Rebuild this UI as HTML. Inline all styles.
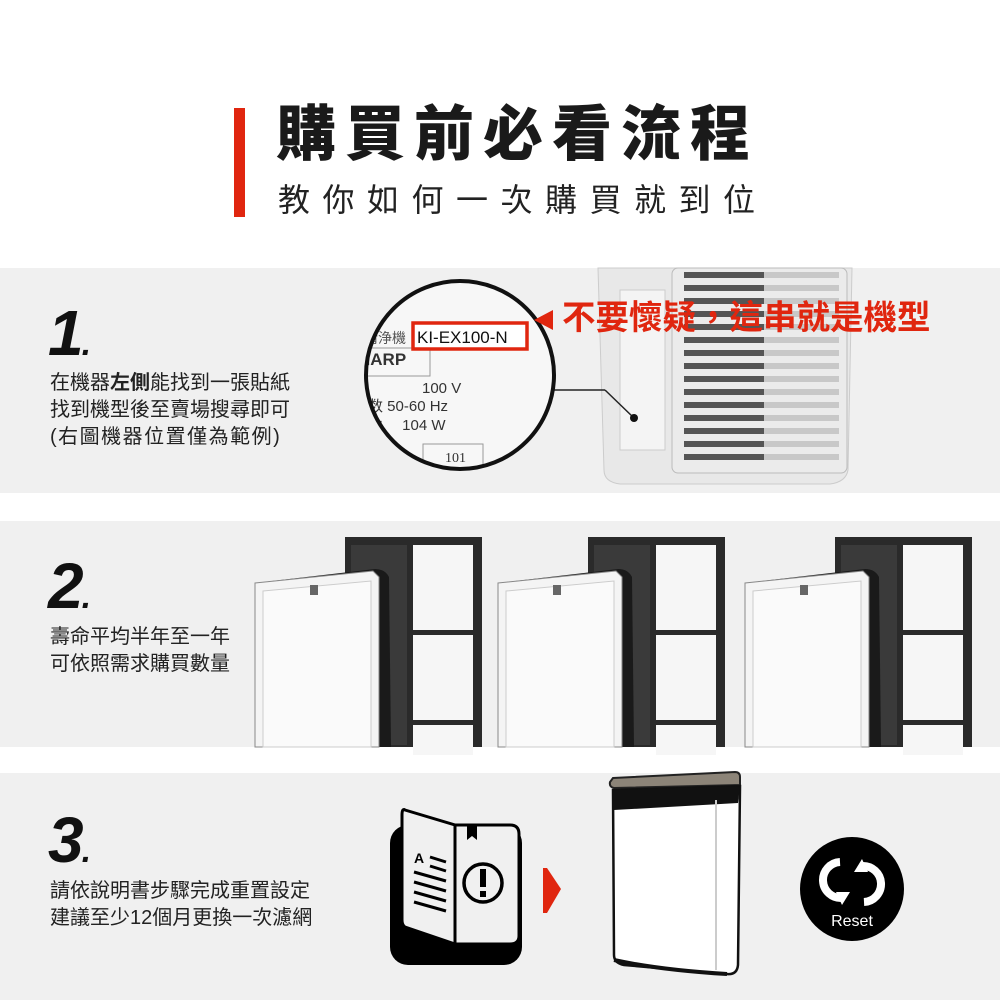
<!DOCTYPE html>
<html><head><meta charset="utf-8"><style>
body{margin:0;width:1000px;height:1000px;background:#fff;position:relative;overflow:hidden;font-family:"Liberation Sans","Noto Sans CJK TC",sans-serif;color:#222}
.a{position:absolute}
.band{position:absolute;left:0;width:1000px;background:#f0f0f0}
.num{position:absolute;left:48px;font-size:64px;font-weight:bold;font-style:italic;color:#111;letter-spacing:-2px}
.num span{font-size:34px}
.t{position:absolute;left:50px;font-size:20px;line-height:27px;color:#222;white-space:nowrap}
</style></head><body>
<div class="a" style="left:234px;top:108px;width:11px;height:109px;background:#e0260f"></div>
<div class="a" style="left:276px;top:98px;font-size:60px;font-weight:900;letter-spacing:9px;color:#1a1a1a;line-height:74px;white-space:nowrap">購買前必看流程</div>
<div class="a" style="left:278px;top:180px;font-size:32px;letter-spacing:12.5px;color:#222;line-height:40px;white-space:nowrap">教你如何一次購買就到位</div>

<div class="band" style="top:268px;height:225px"></div>
<div class="band" style="top:521px;height:226px"></div>
<div class="band" style="top:773px;height:227px"></div>

<div class="num" style="top:296px">1<span>.</span></div>
<div class="t" style="top:370px">在機器<b>左側</b>能找到一張貼紙<br>找到機型後至賣場搜尋即可<br><span style="letter-spacing:1.5px">(右圖機器位置僅為範例)</span></div>

<svg class="a" style="left:0;top:0" width="1000" height="1000">
<path d="M598 268 L852 268 L848 470 Q846 482 830 484 L620 484 Q604 482 604 470 Z" fill="#e8e8e8" stroke="#ccc"/>
<rect x="672" y="268" width="175" height="205" rx="6" fill="#ebebeb" stroke="#bbb"/>
<g fill="#555">
<rect x="684" y="272" width="80" height="6"/><rect x="684" y="285" width="80" height="6"/><rect x="684" y="298" width="80" height="6"/>
<rect x="684" y="311" width="80" height="6"/><rect x="684" y="324" width="80" height="6"/><rect x="684" y="337" width="80" height="6"/>
<rect x="684" y="350" width="80" height="6"/><rect x="684" y="363" width="80" height="6"/><rect x="684" y="376" width="80" height="6"/>
<rect x="684" y="389" width="80" height="6"/><rect x="684" y="402" width="80" height="6"/><rect x="684" y="415" width="80" height="6"/>
<rect x="684" y="428" width="80" height="6"/><rect x="684" y="441" width="80" height="6"/><rect x="684" y="454" width="80" height="6"/>
</g>
<g fill="#c8c8c8">
<rect x="764" y="272" width="75" height="6"/><rect x="764" y="285" width="75" height="6"/><rect x="764" y="298" width="75" height="6"/>
<rect x="764" y="311" width="75" height="6"/><rect x="764" y="324" width="75" height="6"/><rect x="764" y="337" width="75" height="6"/>
<rect x="764" y="350" width="75" height="6"/><rect x="764" y="363" width="75" height="6"/><rect x="764" y="376" width="75" height="6"/>
<rect x="764" y="389" width="75" height="6"/><rect x="764" y="402" width="75" height="6"/><rect x="764" y="415" width="75" height="6"/>
<rect x="764" y="428" width="75" height="6"/><rect x="764" y="441" width="75" height="6"/><rect x="764" y="454" width="75" height="6"/>
</g>
<rect x="620" y="290" width="45" height="160" fill="#f4f4f4" stroke="#ccc"/>
<line x1="540" y1="390" x2="605" y2="390" stroke="#222" stroke-width="1.5"/>
<line x1="605" y1="390" x2="634" y2="418" stroke="#222" stroke-width="1.5"/>
<circle cx="634" cy="418" r="4" fill="#111"/>
<defs><clipPath id="c"><circle cx="460" cy="375" r="94"/></clipPath></defs>
<circle cx="460" cy="375" r="94" fill="#f7f7f7"/>
<g clip-path="url(#c)" font-family="Liberation Sans,Noto Sans CJK TC,sans-serif" fill="#333">
<text x="364" y="343" font-size="14" fill="#555">清浄機</text>
<rect x="355" y="348" width="75" height="28" fill="none" stroke="#999"/>
<text x="358" y="365" font-size="17" font-weight="bold" fill="#333">HARP</text>
<text x="422" y="393" font-size="15">100 V</text>
<text x="368" y="411" font-size="15">数 50-60 Hz</text>
<text x="368" y="430" font-size="15">力 　104 W</text>
<rect x="423" y="444" width="60" height="30" fill="none" stroke="#999"/>
<text x="445" y="462" font-size="14" font-family="Liberation Serif,serif">101</text>
</g>
<circle cx="460" cy="375" r="94" fill="none" stroke="#111" stroke-width="4"/>
<rect x="413" y="323" width="114" height="26" fill="#fff" stroke="#e0260f" stroke-width="3.5"/>
<text x="417" y="343" font-size="17" fill="#111" font-family="Liberation Sans,sans-serif">KI-EX100-N</text>
<path d="M534 320 L553 310 L553 330 Z" fill="#e0260f"/>
</svg>
<div class="a" style="left:562px;top:297px;font-size:33.5px;font-weight:bold;color:#e0260f;line-height:44px;white-space:nowrap">不要懷疑，這串就是機型</div>

<div class="num" style="top:549px">2<span>.</span></div>
<div class="t" style="top:624px">壽命平均半年至一年<br>可依照需求購買數量</div>

<svg class="a" style="left:0;top:0" width="1000" height="1000">
<defs>
<g id="f">
<rect x="0" y="0" width="137" height="210" fill="#2a2a2a"/>
<rect x="68" y="8" width="60" height="85" fill="#f6f6f6"/>
<rect x="68" y="98" width="60" height="85" fill="#f6f6f6"/>
<rect x="68" y="188" width="60" height="30" fill="#f6f6f6"/>
<rect x="6" y="8" width="56" height="200" fill="#3a3a3a"/>
<path d="M-90 46 L30 32 Q40 32 44 40 L46 210 L-90 210 Z" fill="#1a1a1a"/>
<path d="M-90 46 L28 34 L34 40 L34 210 L-90 210 Z" fill="#f4f4f4" stroke="#888"/>
<path d="M-82 54 L26 44 L26 210 L-82 210 Z" fill="#fafafa" stroke="#ccc"/>
<rect x="-35" y="48" width="8" height="10" fill="#666"/>
</g>
</defs>
<use href="#f" x="345" y="537"/>
<use href="#f" x="588" y="537"/>
<use href="#f" x="835" y="537"/>
</svg>

<div class="num" style="top:803px">3<span>.</span></div>
<div class="t" style="top:878px">請依說明書步驟完成重置設定<br>建議至少12個月更換一次濾網</div>

<svg class="a" style="left:0;top:0" width="1000" height="1000">
<rect x="390" y="825" width="132" height="140" rx="18" fill="#000"/>
<path d="M405 810 L455 825 L455 944 L405 927 Q402 925 402 920 L402 815 Q402 808 405 810 Z" fill="#f0f0f0" stroke="#000" stroke-width="3"/>
<path d="M455 825 L510 825 Q519 825 519 834 L519 936 Q519 944 510 944 L455 944 Z" fill="#f0f0f0" stroke="#000" stroke-width="3"/>
<path d="M467 826 L477 826 L477 840 L472 836 L467 840 Z" fill="#000"/>
<circle cx="483" cy="883" r="19" fill="none" stroke="#000" stroke-width="3.5"/>
<rect x="480" y="869" width="6" height="18" fill="#000"/><rect x="480" y="891" width="6" height="6" fill="#000"/>
<text x="414" y="863" font-size="14" font-weight="bold" font-family="Liberation Sans,sans-serif">A</text>
<g stroke="#000" stroke-width="3"><line x1="430" y1="857" x2="446" y2="862"/><line x1="430" y1="866" x2="446" y2="871"/>
<line x1="414" y1="872" x2="446" y2="881"/><line x1="414" y1="882" x2="446" y2="891"/><line x1="414" y1="892" x2="446" y2="901"/><line x1="414" y1="902" x2="446" y2="911"/></g>
<path d="M543 868 L547 868 L561 889 L547 913 L543 913 Z" fill="#e0260f"/>
<path d="M613 778 L735 772 Q740 772 740 777 L740 785 L614 788 Q609 787 610 782 Z" fill="#8c8478" stroke="#222" stroke-width="2"/>
<path d="M613 790 L740 786 L738 965 Q737 975 727 974 L624 965 Q614 963 614 955 Z" fill="#fff" stroke="#111" stroke-width="2.5"/>
<path d="M613 790 L740 786 L738 803 L614 810 Z" fill="#111"/>
<line x1="716" y1="800" x2="716" y2="970" stroke="#ccc" stroke-width="2"/>
<path d="M614 960 Q660 970 727 974" stroke="#111" stroke-width="4" fill="none"/>
<circle cx="852" cy="889" r="52" fill="#000"/>
<path d="M840 862 A18 18 0 0 0 842 898" fill="none" stroke="#fff" stroke-width="8"/>
<path d="M836 892 L850 892 L842 905 Z" fill="#fff"/>
<path d="M864 902 A18 18 0 0 0 862 866" fill="none" stroke="#fff" stroke-width="8"/>
<path d="M868 872 L854 872 L862 859 Z" fill="#fff"/>
<text x="852" y="926" text-anchor="middle" font-size="16" fill="#fff" font-family="Liberation Sans,sans-serif">Reset</text>
</svg>
</body></html>
